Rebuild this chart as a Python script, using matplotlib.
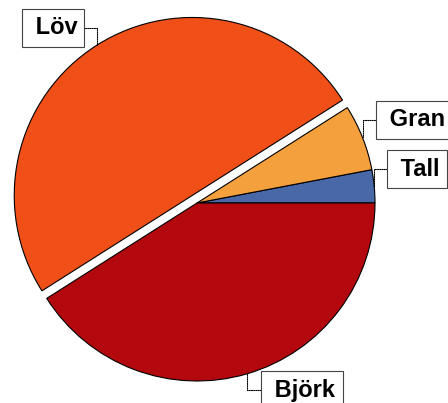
import numpy as np
import matplotlib
matplotlib.use("Agg")
import matplotlib.pyplot as plt

categories = ["Tall", "Gran", "Löv", "Björk"]
values = [3, 6, 50, 41]
colors = ["#4868A8", "#F4A03C", "#F05018", "#B2080E"]
explode_frac = [0, 0, 0.05, 0]

W, H = 448, 403
fig = plt.figure(figsize=(W / 100, H / 100), dpi=100)
ax = fig.add_axes([0, 0, 1, 1])

cx, cy, R = 197, H - 203, 178
explode = [e * R for e in explode_frac]
wedges, _ = ax.pie(values, colors=colors, explode=explode, startangle=0,
                   counterclock=True, center=(cx, cy), radius=R,
                   wedgeprops=dict(edgecolor="black", linewidth=0.8),
                   frame=True)
ax.set_xlim(0, W)
ax.set_ylim(0, H)
ax.set_aspect("equal")
ax.axis("off")

# label text positions (pixel coords, y from top)
label_pos = {"Löv": (53, 28), "Gran": (414, 120), "Tall": (417, 169), "Björk": (302, 390)}

for w, name in zip(wedges, categories):
    mid = np.deg2rad((w.theta1 + w.theta2) / 2)
    wx, wy = w.center
    px = wx + w.r * np.cos(mid)
    py = wy + w.r * np.sin(mid)
    tx, ty = label_pos[name]
    ax.annotate(" " + name, xy=(px, py), xytext=(tx, H - ty),
                ha="center", va="center", fontsize=17, fontweight="bold",
                family=["Liberation Sans", "DejaVu Sans"],
                bbox=dict(boxstyle="square,pad=0.3", fc="white", ec="#444444", lw=0.8),
                arrowprops=dict(arrowstyle="-", color="black", lw=0.8,
                                linestyle=(0, (1, 1)),
                                connectionstyle="angle,angleA=0,angleB=90,rad=0",
                                shrinkA=0, shrinkB=0))

fig.savefig("out.png", dpi=100)
